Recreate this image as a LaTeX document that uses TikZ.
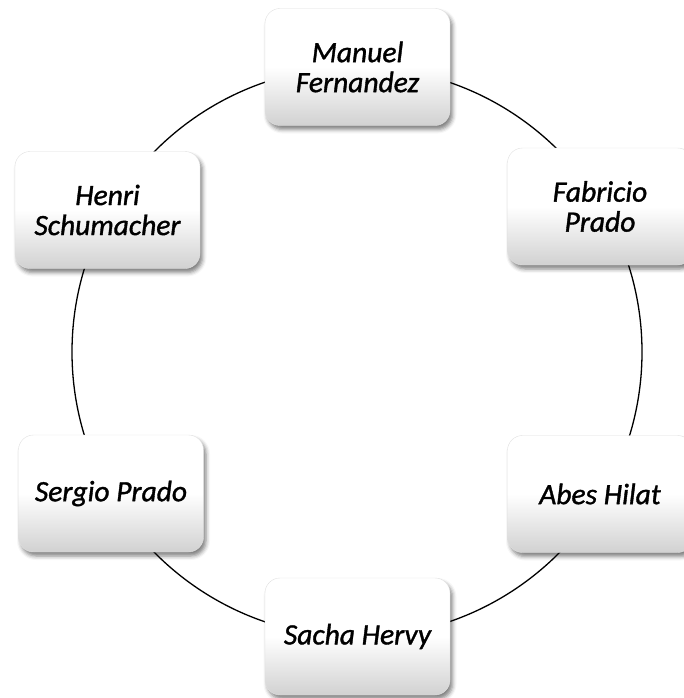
\documentclass[tikz,border=0pt]{standalone}
\usepackage{fontspec}
\setmainfont{Carlito}
\newfontfamily\boxfont[UprightFont={* Italic}, UprightFeatures={FakeBold=1.2}]{Carlito}
\usetikzlibrary{shadows.blur}
\tikzset{
  person/.style={rounded corners=15pt, minimum width=185pt, minimum height=117pt,
    inner sep=0pt, align=center, top color=white, bottom color=black!18,
    middle color=white, draw=black!12, line width=0.4pt,
    blur shadow={shadow xshift=2.5pt, shadow yshift=-4pt, shadow blur radius=4pt, shadow opacity=50},
    font=\fontsize{29.5}{30}\selectfont\boxfont},
  ring/.style={draw=black, line width=1.3pt}
}
\begin{document}
\begin{tikzpicture}[x=1pt,y=-1pt]
\useasboundingbox (0,0) rectangle (684,698);
\coordinate (c) at (357,352);
\draw[ring] (c) circle (285pt);
\node[person] (mf) at (357.5,67) {Manuel\\Fernandez};
\node[person] (fp) at (600,206.5) {Fabricio\\Prado};
\node[person] (ah) at (600,494) {Abes Hilat};
\node[person] (sh) at (357.5,636.5) {Sacha Hervy};
\node[person] (sp) at (111,493.5) {Sergio Prado};
\node[person] (hs) at (107.5,210) {Henri\\Schumacher};
\end{tikzpicture}
\end{document}
